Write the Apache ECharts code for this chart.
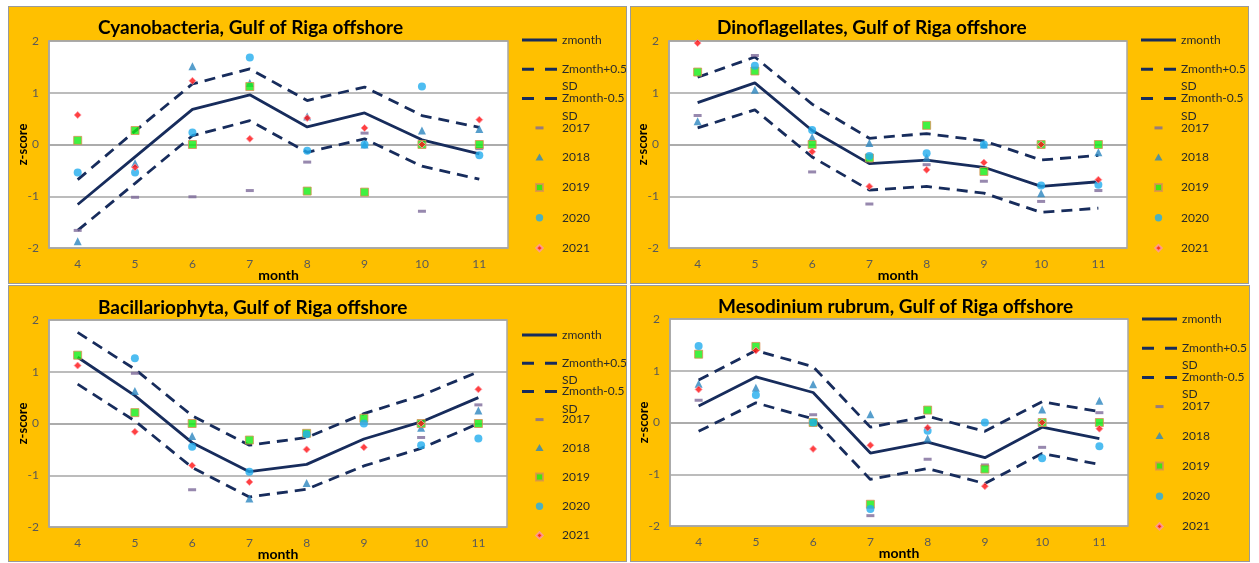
<!DOCTYPE html>
<html><head><meta charset="utf-8">
<script src="https://cdn.jsdelivr.net/npm/echarts@6/dist/echarts.min.js"></script>
<style>
html,body{margin:0;padding:0;background:#fff;width:1259px;height:563px;overflow:hidden}
.p{position:absolute;box-sizing:border-box;border:1px solid #9a9a9a}
</style></head><body>
<div id="c1" class="p" style="left:8px;top:6px;width:619px;height:278px"></div>
<div id="c2" class="p" style="left:630px;top:6px;width:619px;height:278px"></div>
<div id="c3" class="p" style="left:8px;top:285px;width:619px;height:277px"></div>
<div id="c4" class="p" style="left:630px;top:285px;width:620px;height:277px"></div>
<script>
const months = ['4','5','6','7','8','9','10','11'];
const yTicks = [-2,-1,0,1,2];
const seriesNames = ['zmonth','Zmonth+0.5 SD','Zmonth-0.5 SD','2017','2018','2019','2020','2021'];

// Cyanobacteria
const cyZ   = [-1.16,-0.24,0.68,0.96,0.34,0.61,0.09,-0.18];
const cyUp  = [-0.68,0.26,1.17,1.46,0.85,1.11,0.56,0.33];
const cyLo  = [-1.66,-0.75,0.17,0.46,-0.15,0.11,-0.42,-0.67];
const cy2017 = [-1.66,-1.02,-1.01,-0.89,-0.34,0.22,-1.29,-0.08];
const cy2018 = [-1.87,-0.36,1.51,1.19,0.54,0.0,0.27,0.30];
const cy2019 = [0.08,0.27,0.0,1.12,-0.90,-0.92,0.0,0.0];
const cy2020 = [-0.54,-0.54,0.23,1.68,-0.12,0.0,1.12,-0.21];
const cy2021 = [0.57,-0.44,1.23,0.11,0.51,0.32,0.0,0.48];

// Dinoflagellates
const diZ   = [0.81,1.19,0.27,-0.37,-0.30,-0.44,-0.81,-0.72];
const diUp  = [1.30,1.69,0.78,0.12,0.21,0.07,-0.30,-0.21];
const diLo  = [0.32,0.67,-0.24,-0.88,-0.81,-0.94,-1.31,-1.23];
const di2017 = [0.56,1.72,-0.53,-1.15,-0.39,-0.71,-1.10,-0.89];
const di2018 = [0.45,1.06,0.14,0.03,-0.25,0.0,-0.94,-0.15];
const di2019 = [1.40,1.42,0.0,-0.26,0.37,-0.52,0.0,0.0];
const di2020 = [null,1.52,0.28,-0.22,-0.17,0.0,-0.79,-0.78];
const di2021 = [1.96,null,-0.14,-0.81,-0.49,-0.35,0.0,-0.68];

// Bacillariophyta
const baZ   = [1.28,0.54,-0.37,-0.93,-0.79,-0.30,0.03,0.50];
const baUp  = [1.76,1.05,0.15,-0.42,-0.27,0.19,0.54,1.00];
const baLo  = [0.76,0.05,-0.85,-1.42,-1.27,-0.82,-0.48,0.0];
const ba2017 = [null,0.97,-1.28,null,null,null,-0.27,0.36];
const ba2018 = [null,0.63,-0.24,-1.45,-1.15,null,-0.08,0.25];
const ba2019 = [1.32,0.21,0.0,-0.32,-0.19,0.10,0.0,0.0];
const ba2020 = [null,1.26,-0.45,-0.93,-0.21,0.0,-0.42,-0.29];
const ba2021 = [1.12,-0.16,-0.81,-1.13,-0.50,-0.46,0.0,0.66];

// Mesodinium rubrum
const meZ   = [0.32,0.88,0.58,-0.59,-0.38,-0.68,-0.09,-0.31];
const meUp  = [0.82,1.39,1.08,-0.09,0.12,-0.17,0.40,0.21];
const meLo  = [-0.17,0.38,0.07,-1.10,-0.89,-1.18,-0.60,-0.81];
const me2017 = [0.43,null,0.15,-1.80,-0.71,-0.82,-0.48,0.19];
const me2018 = [0.75,0.67,0.74,0.16,-0.31,null,0.25,0.42];
const me2019 = [1.32,1.47,0.0,-1.58,0.24,-0.90,0.0,0.0];
const me2020 = [1.48,0.53,0.0,-1.67,-0.16,0.0,-0.69,-0.46];
const me2021 = [0.64,1.39,-0.51,-0.44,-0.10,-1.23,0.0,-0.12];

const titles = [
  'Cyanobacteria, Gulf of Riga offshore',
  'Dinoflagellates, Gulf of Riga offshore',
  'Bacillariophyta, Gulf of Riga offshore',
  'Mesodinium rubrum, Gulf of Riga offshore'
];

const FONT = 'Lato, "Open Sans", sans-serif';
const NAVY = '#172c5c';
const DASH = [11, 7];

function pairs(arr){ return months.map((m,i)=>[m, arr[i]]).filter(p=>p[1]!==null); }

const lineIcons = {
  'zmonth': 'path://M0,0h35v3h-35z',
  'Zmonth+0.5 SD': 'path://M0,0h12v3h-12zM23,0h12v3h-12z',
  'Zmonth-0.5 SD': 'path://M0,0h12v3h-12zM23,0h12v3h-12z'
};

const yearStyles = {
  '2017': {symbol:'rect', symbolSize:[8,3], itemStyle:{color:'#7d6a9a'},
           icon:'path://M0,0M14,14M3,5.5h8v3h-8z'},
  '2018': {symbol:'triangle', symbolSize:8, itemStyle:{color:'#2c86bf'},
           icon:'path://M0,0M14,14M7,3.2L11,10.3H3Z'},
  '2019': {symbol:'rect', symbolSize:8, itemStyle:{color:'#12ee12', borderColor:'#dc8e55', borderWidth:1},
           icon:'path://M0,0M14,14M3.5,3.5h7v7h-7z'},
  '2020': {symbol:'circle', symbolSize:8, itemStyle:{color:'#22adee'},
           icon:'path://M0,0M14,14M7,3.3A3.7,3.7 0 1,1 6.99,3.3Z'},
  '2021': {symbol:'diamond', symbolSize:7, itemStyle:{color:'#ff1010', borderColor:'#ff9aa8', borderWidth:1},
           icon:'path://M0,0M14,14M7,3.8L10.2,7L7,10.2L3.8,7Z'}
};

function build(cfg){
  const chart = echarts.init(document.getElementById(cfg.id), null, {renderer:'canvas'});
  const lines = [
    {name:'zmonth', data:cfg.z, dashed:false},
    {name:'Zmonth+0.5 SD', data:cfg.up, dashed:true},
    {name:'Zmonth-0.5 SD', data:cfg.lo, dashed:true}
  ];
  const series = lines.map(l => ({
    name:l.name, type:'line', data:l.data, symbol:'none', showSymbol:false,
    lineStyle:{color:NAVY, width:2.8, type: l.dashed ? DASH : 'solid'},
    itemStyle:{color:NAVY}, z:2, silent:true
  }));
  const years = ['2017','2018','2019','2020','2021'];
  years.forEach((y,k)=>{
    const st = yearStyles[y];
    series.push({
      name:y, type:'scatter', data:pairs(cfg.years[k]), symbol:st.symbol,
      symbolSize:st.symbolSize, itemStyle:st.itemStyle, z:3+k, silent:true
    });
  });
  const legendData = seriesNames.map(n => {
    if (yearStyles[n]) return {name:n, icon:yearStyles[n].icon};
    return {name:n, icon:lineIcons[n]};
  });
  chart.setOption({
    animation:false,
    backgroundColor:'#FFC000',
    textStyle:{fontFamily:FONT},
    title:{text:cfg.title, left:cfg.titleLeft-5, top:cfg.titleTop-5,
      textStyle:{fontFamily:FONT, fontWeight:'bold', fontSize:19, color:'#000', lineHeight:22}},
    grid:{left:cfg.grid[0], top:cfg.grid[1], width:cfg.grid[2], height:cfg.grid[3],
      containLabel:false, outerBoundsMode:'none',
      show:true, backgroundColor:'#ffffff', borderColor:'#a6a6a6', borderWidth:1.5},
    xAxis:{type:'category', data:months, boundaryGap:true,
      name:'month', nameLocation:'middle', nameGap:20, nameMoveOverlap:false,
      nameTextStyle:{fontFamily:FONT, fontWeight:'bold', fontSize:14, color:'#000'},
      axisTick:{show:false}, axisLine:{show:true, lineStyle:{color:'#a6a6a6', width:1.5}},
      axisLabel:{color:'#595959', fontSize:12, margin:10, fontFamily:FONT}},
    yAxis:{type:'value', min:yTicks[0], max:yTicks[yTicks.length-1], interval:1,
      name:'z-score', nameLocation:'middle', nameGap:20, nameMoveOverlap:false,
      nameTextStyle:{fontFamily:FONT, fontWeight:'bold', fontSize:13, color:'#000'},
      axisLine:{show:true, lineStyle:{color:'#a6a6a6', width:1.5}}, axisTick:{show:false},
      splitLine:{show:true, lineStyle:{color:'#a6a6a6', width:1.5}},
      axisLabel:{color:'#595959', fontSize:12, margin:10, fontFamily:FONT}},
    legend:{orient:'vertical', left:cfg.legLeft-5, top:cfg.legTop-5, itemGap:cfg.legGap,
      itemWidth:35, itemHeight:14, selectedMode:false, data:legendData,
      formatter: n => n.replace(' SD',''),
      textStyle:{fontFamily:FONT, fontSize:12, color:'#2a2a2a', lineHeight:14, overflow:'none'}},
    graphic: cfg.sd.map(yy => ({type:'text', x:cfg.legLeft+40, y:yy,
      style:{text:'SD', font:'12px '+FONT, fill:'#2a2a2a', textAlign:'left', textVerticalAlign:'middle', verticalAlign:'middle', align:'left'}})),
    series: series
  });
}

build({id:'c1', title:titles[0], titleLeft:89, titleTop:10, grid:[40,34,459,207],
  legLeft:513, legTop:26, legGap:15.3, sd:[79,109],
  z:cyZ, up:cyUp, lo:cyLo, years:[cy2017,cy2018,cy2019,cy2020,cy2021]});
build({id:'c2', title:titles[1], titleLeft:86, titleTop:10, grid:[38,34,458,207],
  legLeft:510, legTop:26, legGap:15.3, sd:[79,109],
  z:diZ, up:diUp, lo:diLo, years:[di2017,di2018,di2019,di2020,di2021]});
build({id:'c3', title:titles[2], titleLeft:89, titleTop:11, grid:[40,34,458,207],
  legLeft:513, legTop:42, legGap:14.2, sd:[94,123],
  z:baZ, up:baUp, lo:baLo, years:[ba2017,ba2018,ba2019,ba2020,ba2021]});
build({id:'c4', title:titles[3], titleLeft:87, titleTop:10, grid:[39,33,458,207],
  legLeft:511, legTop:26, legGap:15.2, sd:[79,108],
  z:meZ, up:meUp, lo:meLo, years:[me2017,me2018,me2019,me2020,me2021]});
</script>
</body></html>
